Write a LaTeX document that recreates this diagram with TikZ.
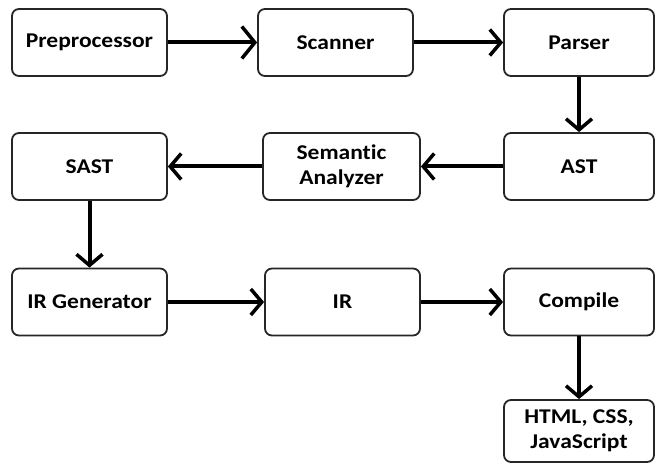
\documentclass[tikz,border=0pt]{standalone}
\usepackage{fontspec}
\setmainfont{Carlito}[FakeStretch=1.12, Ligatures={NoCommon}]
\usetikzlibrary{arrows.meta}
\begin{document}
\begin{tikzpicture}[x=1pt,y=-1pt,
 box/.style={draw=black!85, line width=1.8pt, rounded corners=7pt, minimum width=155pt, minimum height=67pt, inner sep=0pt, align=center, font=\fontsize{21}{25}\selectfont\bfseries, fill=white},
 flow/.style={line width=4pt, -{Straight Barb[length=11pt,width=26pt,line width=3.5pt]}}]
\useasboundingbox (0,0) rectangle (656,465);
\node[box] (pre) at (89.5,42.5) {Preprocessor};
\node[box] (scan) at (335.5,42.5) {Scanner};
\node[box, minimum width=150pt] (parse) at (579,42.5) {Parser};
\node[box] (sast) at (89.5,166.5) {SAST};
\node[box, minimum width=157pt] (sem) at (341.5,166.5) {Semantic\\Analyzer};
\node[box, minimum width=150pt] (ast) at (579,166.5) {AST};
\node[box] (irg) at (89.5,302) {IR Generator};
\node[box] (ir) at (342.5,302) {IR};
\node[box, minimum width=150pt] (comp) at (579,302) {Compile};
\node[box, minimum width=150pt, minimum height=62pt] (out) at (579,431) {HTML, CSS,\\JavaScript};
\draw[flow, -{Straight Barb[length=13pt,width=32pt,line width=3.5pt]}] (pre) -- (scan);
\draw[flow] (scan) -- (parse);
\draw[flow] (parse) -- (ast);
\draw[flow] (ast) -- (sem);
\draw[flow] (sem) -- (sast);
\draw[flow] (sast) -- (irg);
\draw[flow] (irg) -- (ir);
\draw[flow] (ir) -- (comp);
\draw[flow] (comp) -- (out);
\end{tikzpicture}
\end{document}
